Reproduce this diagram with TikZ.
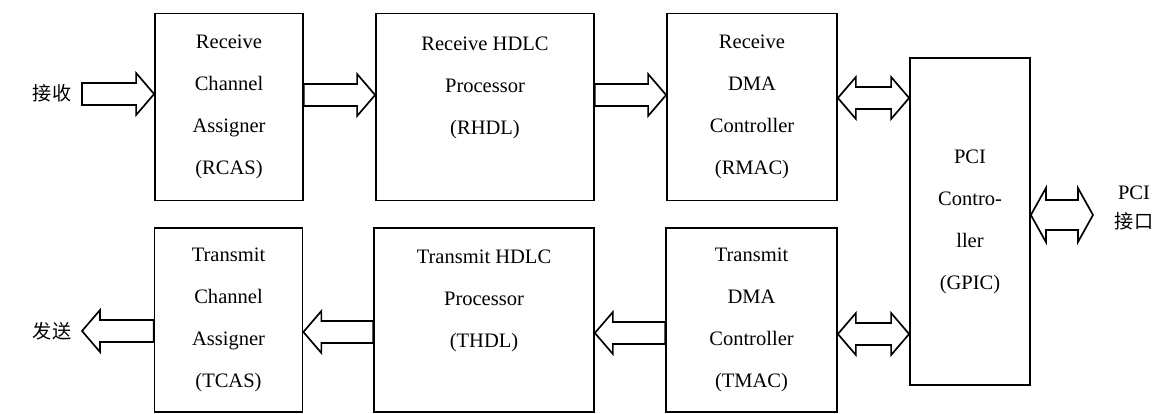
\documentclass[tikz,border=0pt]{standalone}
\usepackage{fontspec}
\setmainfont{Liberation Serif}
\newfontfamily\cjk{Noto Sans CJK SC}
\usetikzlibrary{calc}

% hollow block arrows: shaft and wing half widths, head length
\def\arrshaft{7.8pt}
\def\arrwing{14.9pt}
\def\arrhead{12.8pt}

% one head, from #1 to #2
\newcommand{\fatarrow}[2]{%
	\coordinate (t) at (#1);
	\coordinate (h) at (#2);
	\coordinate (b) at ($(h)!\arrhead!(t)$);
	\draw [fat] ($(t)+(0,\arrshaft)$) -- ($(b)+(0,\arrshaft)$) -- ($(b)+(0,\arrwing)$) -- (h)
		-- ($(b)+(0,-\arrwing)$) -- ($(b)+(0,-\arrshaft)$) -- ($(t)+(0,-\arrshaft)$) -- cycle;
}

% heads at both ends
\newcommand{\dblarrow}[2]{%
	\coordinate (t) at (#1);
	\coordinate (h) at (#2);
	\coordinate (a) at ($(t)!\arrhead!(h)$);
	\coordinate (b) at ($(h)!\arrhead!(t)$);
	\draw [fat] (t) -- ($(a)+(0,\arrwing)$) -- ($(a)+(0,\arrshaft)$) -- ($(b)+(0,\arrshaft)$)
		-- ($(b)+(0,\arrwing)$) -- (h) -- ($(b)+(0,-\arrwing)$) -- ($(b)+(0,-\arrshaft)$)
		-- ($(a)+(0,-\arrshaft)$) -- ($(a)+(0,-\arrwing)$) -- cycle;
}

\begin{document}
\begin{tikzpicture}[
			x=0.025cm, y=-0.025cm,
			box/.style={
				rectangle,
				draw,
				line width=1.2pt,
				inner sep=0pt,
				align=center,
				font=\fontsize{14.6}{29.9}\selectfont
			},
			fat/.style={draw, line width=1.2pt, line join=miter},
			lbl/.style={font=\cjk\fontsize{13.6}{20}\selectfont}
			]
			
			\useasboundingbox (0,0) rectangle (1160,414);
			
			% receive path
			\node (rcas) [box, minimum width=3.7cm, minimum height=4.675cm] at (229,107) {Receive\\Channel\\Assigner\\(RCAS)};
			\node (rhdl) [box, minimum width=5.45cm, minimum height=4.675cm] at (485,107) {Receive HDLC\\Processor\\(RHDL)\\\mbox{}};
			\node (rmac) [box, minimum width=4.25cm, minimum height=4.675cm] at (752,107) {Receive\\DMA\\Controller\\(RMAC)};
			
			% transmit path
			\node (tcas) [box, minimum width=3.7cm, minimum height=4.6cm] at (228.5,320) {Transmit\\Channel\\Assigner\\(TCAS)};
			\node (thdl) [box, minimum width=5.5cm, minimum height=4.6cm] at (484,320) {Transmit HDLC\\Processor\\(THDL)\\\mbox{}};
			\node (tmac) [box, minimum width=4.275cm, minimum height=4.6cm] at (751.5,320) {Transmit\\DMA\\Controller\\(TMAC)};
			
			\node (gpic) [box, minimum width=3cm, minimum height=8.175cm] at (970,221.5) {PCI\\Contro-\\ller\\(GPIC)};
			
			% outside labels
			\node (rx) [lbl] at (52,93) {接收};
			\node (tx) [lbl] at (52,331) {发送};
			\node (pci) [align=center, font=\fontsize{14.6}{21.3}\selectfont] at (1134,208) {PCI\\{\cjk\fontsize{13.6}{20}\selectfont 接口}};
			
			\coordinate (rin) at (82,94);
			\coordinate (tout) at (82,331);
			\coordinate (bus) at (1093,215);
			
			\fatarrow{rin}{rcas.west |- rin}
			\fatarrow{rcas.east |- 0,95}{rhdl.west |- 0,95}
			\fatarrow{rhdl.east |- 0,95}{rmac.west |- 0,95}
			\dblarrow{rmac.east |- 0,98}{gpic.west |- 0,98}
			
			\fatarrow{tmac.west |- 0,333}{thdl.east |- 0,333}
			\fatarrow{thdl.west |- 0,332}{tcas.east |- 0,332}
			\fatarrow{tcas.west |- tout}{tout}
			\dblarrow{tmac.east |- 0,334}{gpic.west |- 0,334}
			
			\begin{scope}
				\def\arrshaft{10.7pt}
				\def\arrwing{19.2pt}
				\def\arrhead{10.7pt}
				\dblarrow{gpic.east |- bus}{bus}
			\end{scope}
			
		\end{tikzpicture}
\end{document}
